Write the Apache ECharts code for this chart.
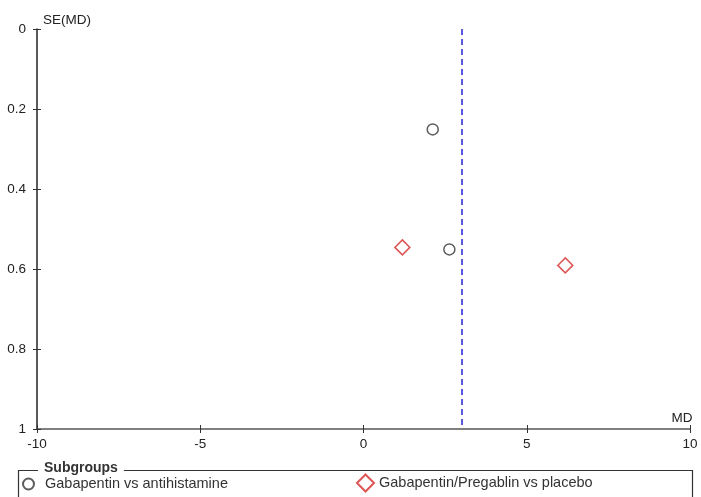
<!DOCTYPE html>
<html><head><meta charset="utf-8">
<script src="https://cdn.jsdelivr.net/npm/echarts@6/dist/echarts.min.js"></script>
<style>html,body{margin:0;padding:0;background:#fff}#c{width:701px;height:497px}</style>
</head><body><div id="c"></div>
<script>
const seriesNames = ['Gabapentin vs antihistamine', 'Gabapentin/Pregablin vs placebo'];
const antihistamineMD = [2.12, 2.63];
const antihistamineSE = [0.251, 0.551];
const placeboMD = [1.19, 6.18];
const placeboSE = [0.546, 0.591];
const pooledMD = 3.0;
const xTicks = [-10, -5, 0, 5, 10];
const yTicks = [0, 0.2, 0.4, 0.6, 0.8, 1];

const font = 'Liberation Sans, Arial, sans-serif';
const axisFont = 13.5;
const chart = echarts.init(document.getElementById('c'));
const toPts = (xs, ys) => xs.map((x, i) => [x, ys[i]]);
const axisBase = (min, max, interval) => ({
  type: 'value', min, max, interval, splitLine: { show: false }
});
chart.setOption({
  animation: false,
  textStyle: { fontFamily: font },
  grid: { left: 37, right: 11, top: 29, bottom: 68, containLabel: false, outerBoundsMode: 'none' },
  xAxis: [
    Object.assign(axisBase(xTicks[0], xTicks[xTicks.length - 1], 5), {
      position: 'bottom',
      name: 'MD', nameLocation: 'end', nameGap: -8,
      nameTextStyle: { color: '#222', fontSize: axisFont, fontFamily: font, align: 'center', verticalAlign: 'bottom', padding: [0, 0, 4, 0] },
      axisLine: { onZero: false, lineStyle: { color: '#555', width: 1.5 } },
      axisTick: { inside: false, length: 4, lineStyle: { color: '#333' } },
      axisLabel: { color: '#222', fontSize: axisFont, margin: 8, fontFamily: font }
    }),
    Object.assign(axisBase(xTicks[0], xTicks[xTicks.length - 1], 5), {
      position: 'bottom', offset: 0,
      axisLine: { show: false, onZero: false },
      axisTick: { inside: true, length: 4, lineStyle: { color: '#333' } },
      axisLabel: { show: false }
    })
  ],
  yAxis: [
    Object.assign(axisBase(yTicks[0], yTicks[yTicks.length - 1], 0.2), {
      inverse: true, position: 'left',
      name: 'SE(MD)', nameLocation: 'start', nameGap: 9,
      nameTextStyle: { color: '#222', fontSize: axisFont, fontFamily: font, align: 'left', verticalAlign: 'middle', padding: [0, 0, 0, 6] },
      axisLine: { onZero: false, lineStyle: { color: '#222', width: 1.5 } },
      axisTick: { inside: false, length: 4, lineStyle: { color: '#333' } },
      axisLabel: { color: '#222', fontSize: axisFont, margin: 11, fontFamily: font }
    }),
    Object.assign(axisBase(yTicks[0], yTicks[yTicks.length - 1], 0.2), {
      inverse: true, position: 'left', offset: 0,
      axisLine: { show: false, onZero: false },
      axisTick: { inside: true, length: 4, lineStyle: { color: '#333' } },
      axisLabel: { show: false }
    })
  ],
  legend: [
    {
      data: [seriesNames[0]], left: 17, top: 471.5, itemWidth: 11, itemHeight: 11, itemGap: 5,
      textStyle: { color: '#333', fontSize: 14.5, fontFamily: font, padding: [0, 0, 0, 6] }
    },
    {
      data: [seriesNames[1]], left: 351, top: 468.5, itemWidth: 17, itemHeight: 17, itemGap: 5,
      textStyle: { color: '#333', fontSize: 14.5, fontFamily: font }
    }
  ],
  graphic: [
    { type: 'rect', left: 16, top: 468, shape: { width: 674, height: 40 },
      style: { fill: 'none', stroke: '#333', lineWidth: 1.2 }, z: 0 },
    { type: 'text', x: 38, y: 468,
      style: { text: 'Subgroups', font: 'bold 14px ' + font, fill: '#333', verticalAlign: 'middle', backgroundColor: '#fff', padding: [0, 6, 0, 6] }, z: 10 }
  ],
  series: [
    {
      name: seriesNames[0], type: 'scatter', symbol: 'circle', symbolSize: 11,
      data: toPts(antihistamineMD, antihistamineSE),
      itemStyle: { color: '#fff', borderColor: '#333', borderWidth: 1.5 },
      markLine: {
        silent: true, symbol: 'none', label: { show: false },
        lineStyle: { color: '#5a5ae0', type: [6, 4], width: 2 },
        data: [{ xAxis: pooledMD }]
      }
    },
    {
      name: seriesNames[1], type: 'scatter', symbol: 'diamond', symbolSize: 15,
      data: toPts(placeboMD, placeboSE),
      itemStyle: { color: '#fff', borderColor: '#d42a2a', borderWidth: 1.5 }
    }
  ]
});
</script></body></html>
